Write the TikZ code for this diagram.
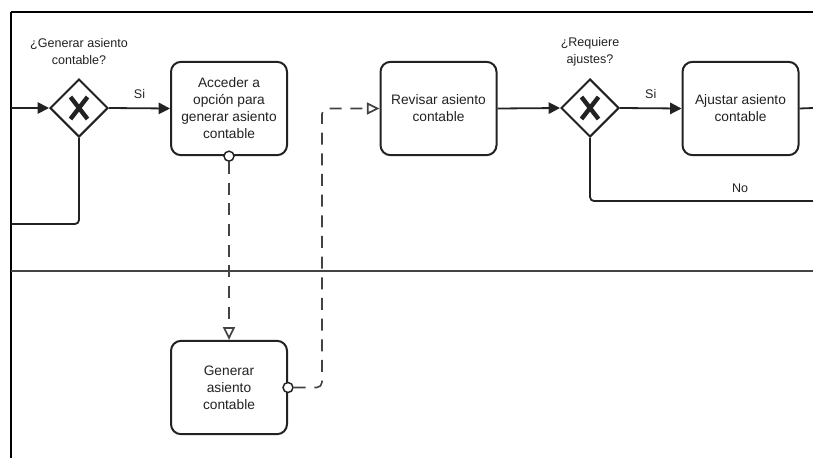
\documentclass[tikz,border=0pt]{standalone}
\usepackage{fontspec}
\setmainfont{Liberation Sans}
\usetikzlibrary{shapes.geometric,arrows.meta}
\definecolor{ink}{HTML}{222222}
\definecolor{lane}{HTML}{444444}
\begin{document}
\begin{tikzpicture}[x=0.75pt,y=-0.75pt,
  task/.style={draw=ink, line width=1.5pt, rounded corners=7.5pt, fill=white,
    minimum width=87pt, minimum height=70pt, align=center, inner sep=0pt,
    text=ink, font=\fontsize{10.3}{12.75}\selectfont},
  gate/.style={draw=ink, line width=1.5pt, diamond, fill=white,
    minimum width=43.5pt, minimum height=43.5pt, inner sep=0pt},
  glabel/.style={align=center, text=ink, font=\fontsize{9.4}{12.4}\selectfont},
  flabel/.style={text=ink, font=\fontsize{9.4}{11}\selectfont},
  seq/.style={draw=ink, line width=1.35pt, -{Triangle[length=8.5pt,width=8.5pt]}},
  plain/.style={draw=ink, line width=1.35pt, rounded corners=3pt},
  msg/.style={draw=ink!85, line width=1.2pt, dash pattern=on 9pt off 6.5pt,
    -{Triangle[open,length=9.5pt,width=9pt,line width=1.3pt]}},
  msgstart/.style={circle, draw=ink, line width=1.1pt, fill=white,
    minimum size=7.5pt, inner sep=0pt},
]
\useasboundingbox (0,0) rectangle (813,458);
\fill[white] (0,0) rectangle (813,458);

% pool frame and lane divider
\draw[black, line width=1.6pt] (11,12) -- (813,12);
\draw[black, line width=1.6pt] (11,12) -- (11,458);
\draw[lane, line width=1.5pt] (11,271) -- (813,271);

% upper lane
\node[gate] (g1) at (79,108) {};
\node[task] (t1) at (229,108.5) {Acceder a\\opción para\\generar asiento\\contable};
\node[task] (t2) at (438.5,108.5) {Revisar asiento\\contable};
\node[gate] (g2) at (590,108) {};
\node[task] (t4) at (740.5,108.5) {Ajustar asiento\\contable};

% exclusive gateway marks
\foreach \g in {g1,g2}{
  \draw[ink, line width=3.3pt] ([shift={(-8.5,-11)}]\g.center) -- ([shift={(8.5,11)}]\g.center);
  \draw[ink, line width=3.3pt] ([shift={(-8.5,11)}]\g.center) -- ([shift={(8.5,-11)}]\g.center);
}

\node[glabel] (q1) at (79,51.5) {¿Generar asiento\\contable?};
\node[glabel] (q2) at (590,51.5) {¿Requiere\\ajustes?};

% lower lane
\node[task] (t3) at (229,387.5) {Generar\\asiento\\contable};

% free ends at the pool border
\coordinate (in1) at (11,108);
\coordinate (out1) at (11,224);
\coordinate (out2) at (813,108);
\coordinate (out3) at (813,201);

% sequence flows
\draw[seq] (in1) -- (g1.west);
\draw[seq] (g1.east) -- node[flabel, above=3pt] (si1) {Si} (t1.west);
\draw[plain] (g1.south) |- (out1);
\draw[seq] (t2.east) -- (g2.west);
\draw[seq] (g2.east) -- node[flabel, above=3pt] (si2) {Si} (t4.west);
\draw[plain] (t4.east) -- (out2);
\draw[plain] (g2.south) |- (out3);
\node[flabel] (no) at (740,188) {No};

% message flows
\node[msgstart] (m1) at (t1.south) {};
\node[msgstart] (m2) at (t3.east) {};
\draw[msg] (m1.south) -- (t3.north);
\draw[msg, rounded corners=4pt] (m2.east) -- (322,387.5) -- (322,108.5) -- (t2.west);
\end{tikzpicture}
\end{document}
